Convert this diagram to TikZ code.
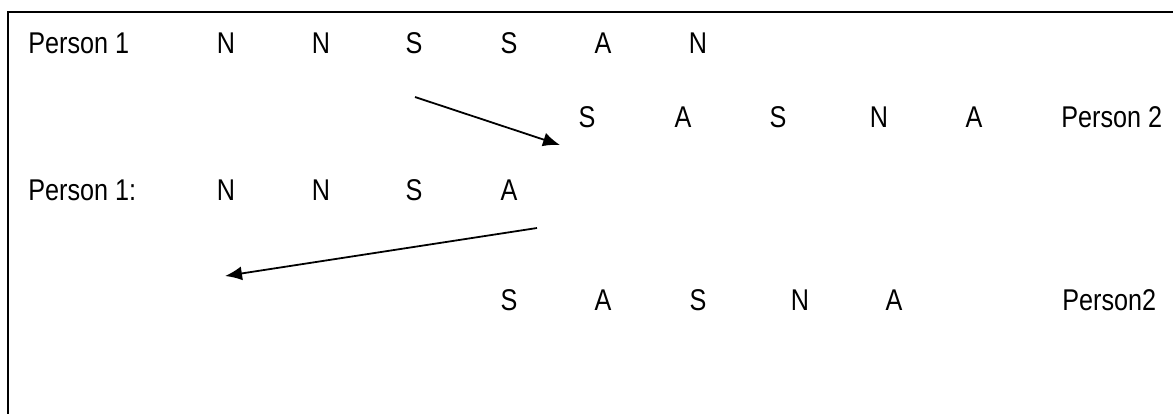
\documentclass[tikz,border=0pt]{standalone}
\usepackage{fontspec}
\setmainfont{Liberation Sans}[FakeStretch=0.84]
\usepackage{tikz}
\usetikzlibrary{arrows.meta}
\tikzstyle{lbl}=[inner sep=0pt,anchor=base,font=\fontsize{15pt}{18pt}\selectfont]
\tikzstyle{who}=[lbl,anchor=base west]
\tikzstyle{arr}=[line width=0.9pt,-{Latex[length=8.5pt,width=7pt]}]

\begin{document}
\begin{tikzpicture}[x=0.5pt,y=-0.5pt]
\useasboundingbox (0,0) rectangle (1173,414);

\draw[line width=1pt] (1173,12) -- (8,12) -- (8,414);

\node[who] (p1) at (28,53) {Person 1};
\node[lbl] (r1a) at (226,53) {N};
\node[lbl] (r1b) at (321,53) {N};
\node[lbl] (r1c) at (414,53) {S};
\node[lbl] (r1d) at (509,53) {S};
\node[lbl] (r1e) at (603,53) {A};
\node[lbl] (r1f) at (698,53) {N};

\node[lbl] (r2a) at (587,127) {S};
\node[lbl] (r2b) at (683,127) {A};
\node[lbl] (r2c) at (778,127) {S};
\node[lbl] (r2d) at (879,127) {N};
\node[lbl] (r2e) at (974,127) {A};
\node[who] (p2) at (1061,127) {Person 2};

\node[who] (q1) at (28,200) {Person 1:};
\node[lbl] (r3a) at (226,200) {N};
\node[lbl] (r3b) at (321,200) {N};
\node[lbl] (r3c) at (414,200) {S};
\node[lbl] (r3d) at (509,200) {A};

\node[lbl] (r4a) at (509,310) {S};
\node[lbl] (r4b) at (603,310) {A};
\node[lbl] (r4c) at (698,310) {S};
\node[lbl] (r4d) at (800,310) {N};
\node[lbl] (r4e) at (894,310) {A};
\node[who] (q2) at (1062,310) {Person2};

\coordinate (s1) at (415,97);
\coordinate (t1) at (560,145);
\coordinate (s2) at (537,228);
\coordinate (t2) at (225,276);

\draw[arr] (s1) -- (t1);
\draw[arr] (s2) -- (t2);

\end{tikzpicture}
\end{document}
